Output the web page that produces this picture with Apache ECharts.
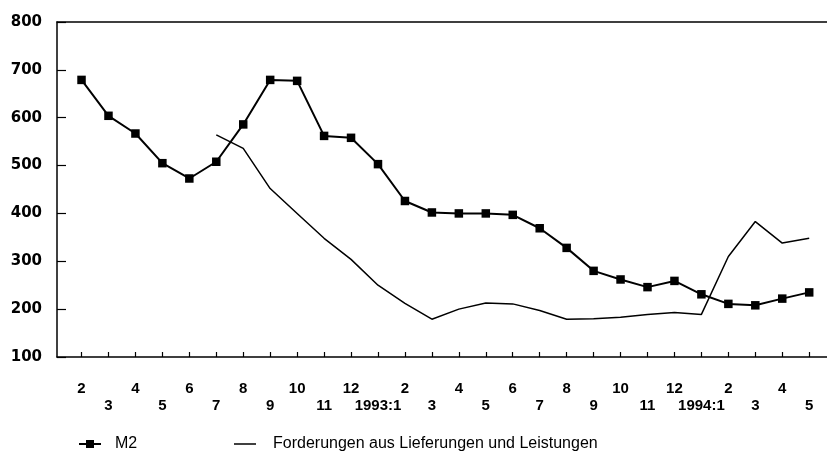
<!DOCTYPE html>
<html>
<head>
<meta charset="utf-8">
<script src="https://cdn.jsdelivr.net/npm/echarts@6/dist/echarts.min.js"></script>
<style>html,body{margin:0;padding:0;background:#fff}#c{width:827px;height:458px}</style>
</head>
<body>
<div id="c"></div>
<script>
var categories = ['2','3','4','5','6','7','8','9','10','11','12','1993:1','2','3','4','5','6','7','8','9','10','11','12','1994:1','2','3','4','5'];
var m2 = [679,604,567,505,473,508,586,679,677,562,558,503,426,402,400,400,397,369,328,280,262,246,259,231,211,208,222,235];
var forderungen = [null,null,null,null,null,564,536,452,400,348,304,250,212,179,200,213,211,197,179,180,183,189,193,189,310,383,338,348];
var yTicks = [100,200,300,400,500,600,700,800];
var seriesNames = ['M2','Forderungen aus Lieferungen und Leistungen'];

function pairs(arr){ var out=[]; arr.forEach(function(v,i){ if(v!==null) out.push([i,v]); }); return out; }
var idx = categories.map(function(c,i){return i;});

var chart = echarts.init(document.getElementById('c'));
var font = 'Liberation Sans, Arial, sans-serif';
chart.setOption({
  animation:false,
  backgroundColor:'#fff',
  grid:{left:57,top:22,width:770,height:335},
  xAxis:[{
    type:'value', min:-0.91, max:27.66, position:'bottom',
    axisLine:{show:true,onZero:false,lineStyle:{color:'#000',width:1.5}},
    axisTick:{show:true,inside:true,length:5,customValues:idx,lineStyle:{color:'#000',width:1.2}},
    splitLine:{show:false},
    axisLabel:{customValues:idx,margin:23,color:'#000',fontFamily:font,fontSize:15,fontWeight:'bold',lineHeight:17,
      formatter:function(v){ var i=Math.round(v); return (i%2===0)? categories[i]+'\n ' : ' \n'+categories[i]; }}
  },{
    type:'value', min:-0.91, max:27.66, position:'top',
    axisLine:{show:true,onZero:false,lineStyle:{color:'#000',width:1.5}},
    axisTick:{show:false}, axisLabel:{show:false}, splitLine:{show:false}
  }],
  yAxis:{
    type:'value', min:100, max:800, interval:100,
    axisLine:{show:true,onZero:false,lineStyle:{color:'#000',width:1.5}},
    axisTick:{show:true,inside:true,length:9,lineStyle:{color:'#000',width:1.2}},
    splitLine:{show:false},
    axisLabel:{margin:15,color:'#000',fontFamily:'DejaVu Sans, sans-serif',fontSize:15,fontWeight:'bold',
      customValues:yTicks}
  },
  legend:[{
    data:[seriesNames[0]], left:73, top:431, itemWidth:22, itemHeight:10,
    textStyle:{color:'#000',fontFamily:font,fontSize:16,padding:[0,0,0,9]}
  },{
    data:[{name:seriesNames[1], icon:'rect'}], left:229, top:431, itemWidth:22, itemHeight:1.5,
    itemStyle:{color:'#000'},
    textStyle:{color:'#000',fontFamily:font,fontSize:16,padding:[0,0,0,12]}
  }],
  series:[{
    name:seriesNames[0], type:'line', data:pairs(m2),
    symbol:'rect', symbolSize:8.5, showSymbol:true,
    lineStyle:{color:'#000',width:2}, itemStyle:{color:'#000'}
  },{
    name:seriesNames[1], type:'line', data:pairs(forderungen),
    symbol:'none', showSymbol:false,
    lineStyle:{color:'#000',width:1.5}, itemStyle:{color:'#000'}
  }]
});
</script>
</body>
</html>
